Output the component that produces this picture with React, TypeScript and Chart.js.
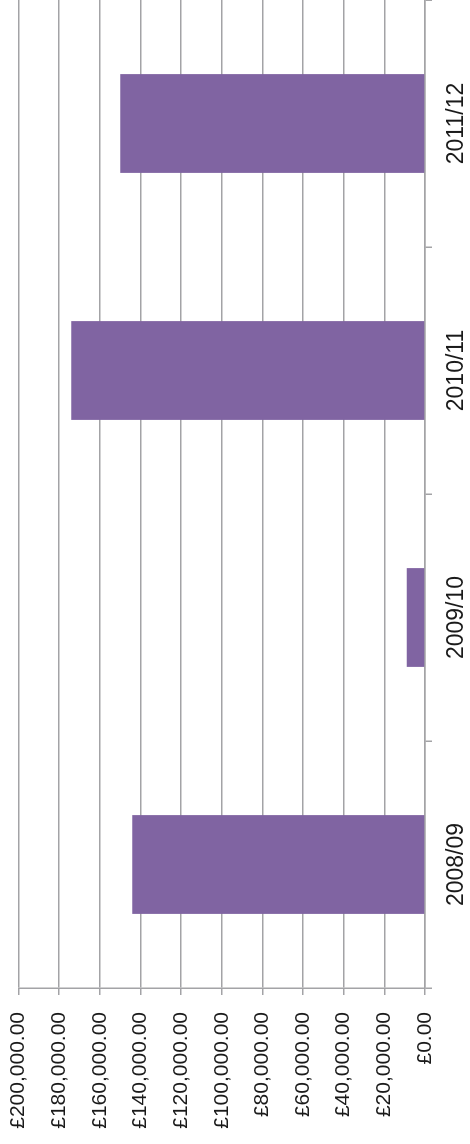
import React, { useEffect, useRef } from "react";
import { Chart, registerables } from "chart.js";

Chart.register(...registerables);

const categories = ["2008/09", "2009/10", "2010/11", "2011/12"];
const spending = [144000, 9000, 174000, 150000];
const valueMin = 0;
const valueMax = 200000;
const valueStep = 20000;

const BAR_COLOR = "#8064A2";
const GRID_COLOR = "#a3a3a6";
const TEXT_COLOR = "#1a1a1a";
const FONT_FAMILY = "'Liberation Sans', Arial, Helvetica, sans-serif";

function formatPounds(v: number): string {
  const fixed = v.toFixed(2);
  const [intPart, dec] = fixed.split(".");
  const withCommas = intPart.replace(/\B(?=(\d{3})+(?!\d))/g, ",");
  return "£" + withCommas + "." + dec;
}

export default function App() {
  const canvasRef = useRef<HTMLCanvasElement | null>(null);

  useEffect(() => {
    const canvas = canvasRef.current;
    if (!canvas) return;
    const chart = new Chart(canvas, {
      type: "bar",
      data: {
        labels: categories,
        datasets: [
          {
            data: spending,
            backgroundColor: BAR_COLOR,
            borderWidth: 0,
            barPercentage: 0.4,
            categoryPercentage: 1.0,
          },
        ],
      },
      options: {
        responsive: false,
        animation: false,
        devicePixelRatio: 1,
        layout: { padding: { top: 18.5, right: 0, bottom: 0, left: 0 } },
        plugins: {
          legend: { display: false },
          tooltip: { enabled: false },
        },
        scales: {
          x: {
            type: "category",
            offset: true,
            grid: {
              offset: true,
              drawOnChartArea: false,
              drawTicks: true,
              tickLength: 7,
              color: GRID_COLOR,
              lineWidth: 1.5,
            },
            border: { display: true, color: GRID_COLOR, width: 1.5 },
            ticks: {
              autoSkip: false,
              maxRotation: 0,
              minRotation: 0,
              padding: 11,
              color: TEXT_COLOR,
              font: { family: FONT_FAMILY, size: 23 },
            },
            afterFit: (scale: any) => {
              scale.height = 45;
              scale.paddingLeft = 0;
              scale.paddingRight = 0;
            },
          },
          y: {
            type: "linear",
            min: valueMin,
            max: valueMax,
            grid: {
              color: GRID_COLOR,
              lineWidth: 1.5,
              drawTicks: true,
              tickLength: 7,
            },
            border: { display: true, color: GRID_COLOR, width: 1.5 },
            ticks: {
              stepSize: valueStep,
              padding: 17,
              color: TEXT_COLOR,
              font: { family: FONT_FAMILY, size: 21 },
              callback: (v: any) => formatPounds(Number(v)),
            },
            afterFit: (scale: any) => {
              scale.width = 156;
              scale.paddingTop = 0;
              scale.paddingBottom = 0;
            },
          },
        },
      },
    });
    return () => chart.destroy();
  }, []);

  return (
    <div
      style={{
        position: "fixed",
        left: 0,
        top: 0,
        width: 470,
        height: 1144,
        overflow: "hidden",
        background: "#ffffff",
      }}
    >
      <div
        style={{
          position: "absolute",
          left: 0,
          top: 0,
          width: 1144,
          height: 470,
          transformOrigin: "0 0",
          transform: "translate(0px, 1144px) rotate(-90deg)",
        }}
      >
        <canvas
          ref={canvasRef}
          width={1144}
          height={470}
          style={{ display: "block", width: 1144, height: 470 }}
        />
      </div>
    </div>
  );
}
